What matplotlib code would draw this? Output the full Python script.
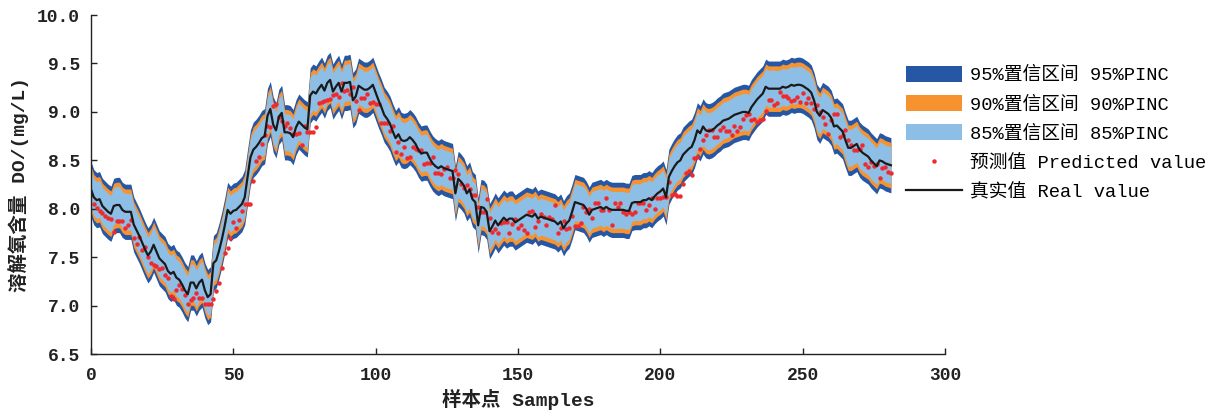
import matplotlib
matplotlib.use("Agg")
import matplotlib.pyplot as plt
import numpy as np
from matplotlib.patches import Patch
from matplotlib.lines import Line2D

plt.rcParams['font.family'] = ['Liberation Mono', 'Noto Sans CJK SC', 'DejaVu Sans']

# ---- data ----
real_value = [
    8.20, 8.12, 8.09, 8.10, 8.03, 8.00, 7.97, 7.95, 8.03, 8.04,
    8.04, 7.99, 7.97, 7.97, 7.97, 7.84, 7.78, 7.72, 7.65, 7.58,
    7.52, 7.56, 7.63, 7.56, 7.49, 7.46, 7.43, 7.36, 7.33, 7.35,
    7.29, 7.27, 7.22, 7.16, 7.12, 7.24, 7.24, 7.18, 7.24, 7.27,
    7.16, 7.09, 7.12, 7.44, 7.47, 7.57, 7.69, 7.83, 7.99, 7.95,
    7.98, 7.99, 8.02, 8.05, 8.12, 8.33, 8.53, 8.61, 8.64, 8.68,
    8.73, 8.75, 8.96, 9.03, 8.87, 8.81, 8.95, 8.99, 8.79, 8.79,
    8.78, 8.74, 8.84, 8.90, 8.87, 8.84, 8.82, 9.17, 9.21, 9.19,
    9.24, 9.28, 9.22, 9.30, 9.33, 9.21, 9.26, 9.30, 9.21, 9.30,
    9.30, 9.31, 9.12, 9.16, 9.27, 9.25, 9.23, 9.23, 9.25, 9.28,
    9.20, 9.12, 9.05, 8.97, 8.93, 8.88, 8.80, 8.73, 8.77, 8.71,
    8.70, 8.71, 8.74, 8.71, 8.67, 8.61, 8.57, 8.58, 8.58, 8.52,
    8.47, 8.44, 8.42, 8.44, 8.42, 8.41, 8.40, 8.39, 8.16, 8.31,
    8.28, 8.24, 8.16, 8.20, 8.10, 8.07, 7.83, 8.02, 8.01, 7.97,
    7.77, 7.82, 7.88, 7.83, 7.87, 7.91, 7.88, 7.90, 7.90, 7.86,
    7.88, 7.90, 7.92, 7.94, 7.93, 7.92, 7.95, 7.90, 7.92, 7.91,
    7.90, 7.89, 7.88, 7.87, 7.84, 7.87, 7.80, 7.85, 7.88, 7.97,
    8.07, 8.06, 8.05, 8.04, 8.00, 7.94, 7.99, 8.00, 8.01, 8.02,
    8.00, 8.02, 8.00, 7.99, 7.99, 7.99, 7.99, 7.99, 7.98, 7.98,
    8.06, 8.07, 8.07, 8.07, 8.09, 8.09, 8.11, 8.09, 8.13, 8.16,
    8.18, 8.21, 8.12, 8.33, 8.39, 8.44, 8.48, 8.50, 8.56, 8.59,
    8.62, 8.64, 8.71, 8.81, 8.78, 8.85, 8.81, 8.80, 8.81, 8.83,
    8.86, 8.88, 8.91, 8.92, 8.93, 8.95, 8.97, 8.98, 8.99, 9.00,
    9.00, 8.99, 9.05, 9.09, 9.13, 9.16, 9.19, 9.26, 9.24, 9.24,
    9.24, 9.24, 9.24, 9.26, 9.25, 9.26, 9.28, 9.27, 9.28, 9.28,
    9.27, 9.25, 9.23, 9.20, 9.12, 9.00, 8.96, 9.02, 9.00, 8.98,
    8.94, 8.85, 8.86, 8.83, 8.80, 8.71, 8.63, 8.63, 8.65, 8.67,
    8.61, 8.58, 8.56, 8.54, 8.50, 8.47, 8.44, 8.50, 8.49, 8.47,
    8.46, 8.45,
]

predicted_value = [
    8.14, 8.05, 8.01, 7.98, 7.96, 7.93, 7.91, 7.90, 7.76, 7.88,
    7.87, 7.88, 7.80, 7.83, 7.89, 7.70, 7.64, 7.71, 7.58, 7.61,
    7.50, 7.44, 7.42, 7.41, 7.38, 7.39, 7.32, 7.29, 7.10, 7.07,
    7.16, 7.22, 7.17, 7.11, 7.02, 7.06, 7.08, 7.13, 7.08, 7.08,
    7.02, 7.02, 7.02, 7.07, 7.15, 7.24, 7.39, 7.55, 7.60, 7.70,
    7.86, 7.80, 7.89, 7.98, 8.05, 8.05, 8.05, 8.29, 8.49, 8.54,
    8.67, 8.76, 8.85, 8.84, 9.06, 9.08, 8.95, 8.91, 8.85, 8.89,
    8.83, 8.77, 8.77, 8.78, 8.66, 8.85, 8.79, 8.79, 8.79, 8.84,
    9.09, 9.10, 9.11, 9.12, 9.13, 9.17, 9.18, 9.15, 9.30, 9.22,
    9.23, 9.18, 9.26, 9.11, 9.02, 9.14, 9.14, 9.18, 9.09, 9.10,
    9.08, 9.08, 8.89, 8.89, 8.89, 8.80, 8.86, 8.59, 8.69, 8.57,
    8.64, 8.53, 8.54, 8.64, 8.62, 8.61, 8.61, 8.46, 8.47, 8.47,
    8.54, 8.37, 8.37, 8.36, 8.41, 8.43, 8.32, 8.32, 8.40, 8.36,
    8.26, 8.22, 8.25, 8.21, 8.14, 8.14, 8.02, 7.97, 7.97, 8.10,
    7.91, 7.76, 7.79, 7.75, 7.85, 7.86, 7.86, 7.75, 7.84, 7.90,
    7.80, 7.83, 7.78, 7.75, 7.97, 7.98, 7.81, 7.87, 7.95, 7.92,
    7.83, 7.92, 7.90, 8.04, 7.75, 7.80, 7.88, 7.79, 7.80, 7.93,
    7.82, 7.82, 7.85, 8.02, 7.97, 8.00, 7.91, 8.06, 8.06, 7.99,
    7.99, 8.11, 7.99, 7.83, 8.06, 8.02, 8.06, 7.97, 7.95, 7.97,
    7.95, 7.97, 8.06, 8.06, 8.06, 7.99, 8.04, 8.11, 8.00, 8.11,
    8.11, 8.12, 8.12, 8.28, 8.14, 8.15, 8.13, 8.13, 8.26, 8.37,
    8.39, 8.35, 8.52, 8.54, 8.62, 8.71, 8.76, 8.81, 8.81, 8.74,
    8.74, 8.81, 8.84, 8.80, 8.80, 8.76, 8.86, 8.80, 8.84, 8.93,
    8.97, 8.98, 8.92, 8.93, 8.90, 8.92, 8.93, 9.01, 9.12, 9.12,
    9.07, 9.09, 9.21, 9.16, 9.16, 9.14, 9.11, 9.12, 9.15, 9.10,
    9.20, 9.09, 9.14, 9.09, 9.03, 9.07, 9.00, 8.95, 8.88, 8.77,
    8.92, 8.98, 8.98, 8.74, 8.76, 8.81, 8.71, 8.66, 8.61, 8.61,
    8.62, 8.66, 8.46, 8.43, 8.48, 8.44, 8.46, 8.32, 8.42, 8.43,
    8.38, 8.37,
]

# half widths of the prediction intervals (95%, 90%, 85%)
interval_levels = ['95%', '90%', '85%']
interval_half_width = [0.285, 0.235, 0.19]

legend_labels = ['95%置信区间 95%PINC', '90%置信区间 90%PINC', '85%置信区间 85%PINC',
                 '预测值 Predicted value', '真实值 Real value']
x_ticks = [0, 50, 100, 150, 200, 250, 300]
y_ticks = [6.5, 7.0, 7.5, 8.0, 8.5, 9.0, 9.5, 10.0]

# ---- plot ----
band_colors = ['#2657a5', '#f69330', '#8dbfe6']

fig = plt.figure(figsize=(12.10, 4.17), dpi=100)
ax = fig.add_axes([91/1210, 1-354.3/417, (945-91)/1210, (354.3-15)/417])

samples = np.arange(len(real_value))
real = np.array(real_value)
for hw, c in zip(interval_half_width, band_colors):
    ax.fill_between(samples, real - hw, real + hw, color=c, linewidth=0)

ax.plot(samples, predicted_value, linestyle='none', marker='o', markersize=3.2,
        color='#ee2a2f', markeredgewidth=0)
ax.plot(samples, real_value, color='#1a1a1a', linewidth=1.6)

ax.set_xlim(0, 300)
ax.set_ylim(6.5, 10.0)
ax.set_xticks(x_ticks)
ax.set_yticks(y_ticks)
ax.set_yticklabels([f'{v:.1f}' for v in y_ticks])
ax.spines['top'].set_visible(False)
ax.spines['right'].set_visible(False)
for s in ['left', 'bottom']:
    ax.spines[s].set_linewidth(1.0)
    ax.spines[s].set_color('#222222')
ax.tick_params(direction='in', length=4, width=1.0, labelsize=13, pad=8, colors='#222222')
ax.tick_params(axis='x', pad=9)
for lab in ax.get_xticklabels() + ax.get_yticklabels():
    lab.set_color('#222222')
    lab.set_fontweight('bold')

ax.set_xlabel('样本点 Samples', fontsize=14, fontweight='bold', labelpad=4, color='#222222')
ax.set_ylabel('溶解氧含量 DO/(mg/L)', fontsize=14, fontweight='bold', labelpad=6, color='#222222')

handles = [Patch(facecolor=c, edgecolor='none') for c in band_colors]
handles.append(Line2D([], [], linestyle='none', marker='o', markersize=3.2,
                      color='#ee2a2f', markeredgewidth=0))
handles.append(Line2D([], [], color='#1a1a1a', linewidth=1.6))
fig.legend(handles, legend_labels, loc='upper left',
           bbox_to_anchor=(906/1210, 1-66/417), bbox_transform=fig.transFigure,
           frameon=False, fontsize=13.5, handlelength=3.0, handleheight=0.92,
           handletextpad=0.43, labelspacing=0.58, borderpad=0, borderaxespad=0)

fig.savefig('out.png', dpi=100)
